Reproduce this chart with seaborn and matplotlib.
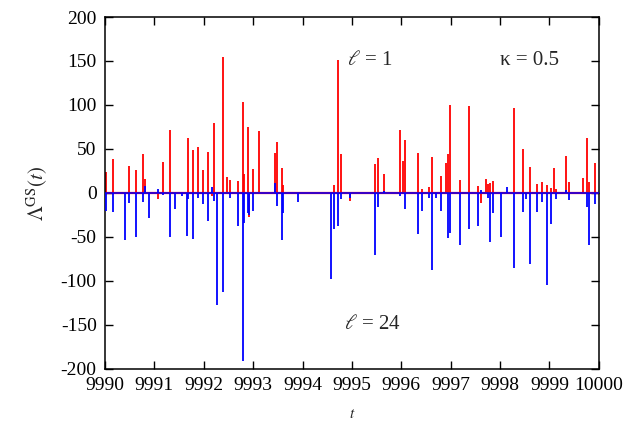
import matplotlib
matplotlib.use("Agg")
import matplotlib.pyplot as plt
import seaborn as sns
import pandas as pd

# Impulse spikes of Lambda^GS(t) for the two chains
red_t = [9990.01, 9990.17, 9990.49, 9990.62, 9990.76, 9990.81, 9991.07, 9991.18, 9991.31,
         9991.69, 9991.78, 9991.88, 9991.98, 9992.09, 9992.17, 9992.20, 9992.39, 9992.46,
         9992.53, 9992.69, 9992.79, 9992.82, 9992.89, 9992.91, 9993.00, 9993.12, 9993.44,
         9993.48, 9993.58, 9993.60, 9994.64, 9994.72, 9994.78, 9994.96, 9995.46, 9995.53,
         9995.64, 9995.97, 9996.04, 9996.07, 9996.33, 9996.41, 9996.56, 9996.62, 9996.80,
         9996.91, 9996.94, 9996.99, 9997.19, 9997.37, 9997.56, 9997.61, 9997.71, 9997.75,
         9997.79, 9997.85, 9998.29, 9998.46, 9998.60, 9998.74, 9998.84, 9998.96, 9999.04,
         9999.10, 9999.14, 9999.33, 9999.39, 9999.68, 9999.76, 9999.80, 9999.92]
red_v = [24, 39, 31, 26, 44, 16, -7, 35, 71,
         63, 49, 52, 26, 47, -3, 79, 155, 18,
         15, 14, 103, 22, 75, -27, 27, 70, 45,
         58, 28, 9, 9, 151, 44, -9, 33, 40,
         22, 71, 36, 60, 45, 5, 7, 41, 19,
         34, 44, 100, 15, 99, 8, -11, 16, 10,
         11, 14, 96, 50, 29, 10, 12, 9, 6,
         28, 4, 42, 12, 17, 62, 12, 34]

blue_t = [9990.01, 9990.17, 9990.40, 9990.49, 9990.62, 9990.76, 9990.81, 9990.90, 9991.07,
          9991.18, 9991.31, 9991.41, 9991.55, 9991.65, 9991.69, 9991.78, 9991.88, 9991.98,
          9992.09, 9992.17, 9992.20, 9992.26, 9992.39, 9992.53, 9992.69, 9992.79, 9992.82,
          9992.89, 9992.91, 9993.00, 9993.44, 9993.48, 9993.58, 9993.60, 9993.90, 9994.57,
          9994.64, 9994.72, 9994.78, 9994.96, 9995.46, 9995.53, 9995.64, 9995.97, 9996.07,
          9996.33, 9996.41, 9996.56, 9996.62, 9996.71, 9996.80, 9996.94, 9996.98, 9997.19,
          9997.37, 9997.56, 9997.61, 9997.75, 9997.79, 9997.85, 9998.02, 9998.15, 9998.29,
          9998.46, 9998.52, 9998.60, 9998.74, 9998.84, 9998.96, 9999.04, 9999.13, 9999.33,
          9999.39, 9999.76, 9999.80, 9999.92]
blue_v = [-20, -22, -54, -11, -50, -10, 8, -29, 4,
          -2, -50, -18, -4, -49, -7, -52, -6, -13,
          -32, 7, -9, -127, -113, -6, -38, -191, -34,
          -23, -25, -21, 11, -15, -54, -23, -10, -98,
          -41, -37, -7, -6, -70, -16, 2, -3, -18,
          -47, -20, -6, -88, -6, -20, -51, -46, -59,
          -41, -38, 3, -6, -56, -23, -50, 7, -85,
          -22, -7, -81, -22, -10, -105, -35, -7, 3,
          -8, -16, -59, -13]

x_ticks = list(range(9990, 10001))
x_tick_labels = [str(v) for v in x_ticks]
y_ticks = list(range(-200, 201, 50))
y_tick_labels = [str(v) for v in y_ticks]

sns.set_style("ticks")
plt.rcParams["font.family"] = ["Liberation Serif", "DejaVu Serif"]
plt.rcParams["mathtext.fontset"] = "stix"

fig = plt.figure(figsize=(6.29, 4.25), dpi=100)
ax = fig.add_axes([0.167, 0.132, 0.785, 0.828])

red = pd.DataFrame({"t": red_t, "v": red_v})
blue = pd.DataFrame({"t": blue_t, "v": blue_v})

# baselines (zero values of each series), red underneath blue
sns.lineplot(x=[9990, 10000], y=[0, 0], color="#ff0000", lw=1.6, ax=ax)
ax.vlines(red["t"], 0, red["v"], color="#ff0000", lw=1.3, zorder=2)
sns.lineplot(x=[9990, 10000], y=[0, 0], color="#0000ff", lw=1.1, ax=ax, zorder=3)
ax.vlines(blue["t"], 0, blue["v"], color="#0000ff", lw=1.3, zorder=3)

ax.set_xlim(9990, 10000)
ax.set_ylim(-200, 200)
ax.set_xticks(x_ticks)
ax.set_xticklabels(x_tick_labels)
ax.set_yticks(y_ticks)
ax.set_yticklabels(y_tick_labels)
ax.tick_params(direction="in", length=6, width=1, labelsize=14,
               top=True, right=True, colors="black", pad=6)
for s in ax.spines.values():
    s.set_linewidth(1.1)
    s.set_color("black")

ax.set_xlabel(r"$t$", fontsize=11, labelpad=10)
ax.set_ylabel(r"$\Lambda^{\rm GS}(t)$", fontsize=15, labelpad=8)

ax.text(9995.36, 151, r"$\ell$ = 1", fontsize=15, ha="center", va="center")
ax.text(9995.42, -150, r"$\ell$ = 24", fontsize=15, ha="center", va="center")
ax.text(9998.6, 151, "κ = 0.5", fontsize=15, ha="center", va="center")

fig.savefig("out.png", dpi=100)
